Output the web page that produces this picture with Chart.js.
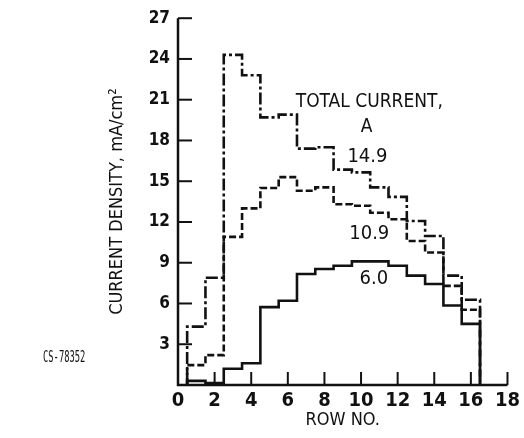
<!DOCTYPE html>
<html><head><meta charset="utf-8">
<script src="https://cdn.jsdelivr.net/npm/chart.js@4.4.0/dist/chart.umd.min.js"></script>
<style>html,body{margin:0;padding:0;background:#fff}#wrap{width:524px;height:438px;position:relative}</style>
</head><body><div id="wrap"><canvas id="c" width="524" height="438"></canvas></div>
<script>
// Row numbers and current density (mA/cm^2) per row for each total current
const rows = [1,2,3,4,5,6,7,8,9,10,11,12,13,14,15,16];
const current149 = [4.3, 7.9, 24.3, 22.8, 19.7, 19.9, 17.4, 17.5, 15.85, 15.65, 14.55, 13.85, 12.07, 10.97, 8.05, 6.27];
const current109 = [1.46, 2.2, 10.9, 13.0, 14.5, 15.3, 14.3, 14.55, 13.3, 13.2, 12.68, 12.2, 10.6, 9.75, 7.3, 5.54];
const current60  = [0.3, 0.15, 1.2, 1.6, 5.73, 6.2, 8.17, 8.54, 8.78, 9.1, 9.1, 8.78, 8.05, 7.44, 5.85, 4.5];
const seriesLabels = ['14.9', '10.9', '6.0'];
const xTickValues = [0,2,4,6,8,10,12,14,16,18];
const yTickValues = [3,6,9,12,15,18,21,24,27];

const NARROW = "'Liberation Sans Narrow','DejaVu Sans Condensed','Roboto Condensed',sans-serif";
const INK = '#111';

function stepPoints(vals) {
  const pts = [{x: rows[0] - 0.5, y: 0}];
  vals.forEach((v, i) => pts.push({x: rows[i] - 0.5, y: v}));
  pts.push({x: rows[rows.length - 1] + 0.5, y: 0});
  return pts;
}

const annotations = [
  {text: 'TOTAL CURRENT,', x: 10.45, y: 20.85, size: 19},
  {text: 'A', x: 10.3, y: 19.0, size: 19},
  {text: seriesLabels[0], x: 10.35, y: 16.8, size: 20},
  {text: seriesLabels[1], x: 10.45, y: 11.1, size: 20},
  {text: seriesLabels[2], x: 10.7, y: 7.8, size: 20}
];

const decor = {
  id: 'decor',
  afterDraw(chart) {
    const ctx = chart.ctx, xs = chart.scales.x, ys = chart.scales.y;
    const a = chart.chartArea;
    ctx.save();
    ctx.strokeStyle = INK; ctx.lineWidth = 2.5; ctx.lineCap = 'butt';
    // axes
    ctx.beginPath();
    ctx.moveTo(a.left, ys.getPixelForValue(27));
    ctx.lineTo(a.left, a.bottom);
    ctx.lineTo(xs.getPixelForValue(18), a.bottom);
    ctx.stroke();
    // y ticks (inward)
    ctx.lineWidth = 2;
    yTickValues.forEach(v => {
      const py = ys.getPixelForValue(v);
      ctx.beginPath(); ctx.moveTo(a.left, py); ctx.lineTo(a.left + 14, py); ctx.stroke();
    });
    // x ticks (inward)
    xTickValues.forEach(v => {
      if (v === 0) return;
      const px = xs.getPixelForValue(v);
      ctx.beginPath(); ctx.moveTo(px, a.bottom); ctx.lineTo(px, a.bottom - 13); ctx.stroke();
    });
    // annotations
    ctx.fillStyle = INK;
    ctx.textAlign = 'center'; ctx.textBaseline = 'middle';
    annotations.forEach(t => {
      ctx.font = t.size + 'px ' + NARROW;
      ctx.fillText(t.text, xs.getPixelForValue(t.x), ys.getPixelForValue(t.y));
    });
    // figure id
    ctx.save();
    ctx.translate(43, 358);
    ctx.scale(0.55, 1);
    ctx.font = "16px 'DejaVu Sans Mono','Liberation Mono',monospace";
    ctx.textAlign = 'left';
    ctx.fillText('CS-78352', 0, 0);
    ctx.restore();
    ctx.restore();
  }
};

new Chart(document.getElementById('c'), {
  type: 'line',
  data: {
    datasets: [
      {label: seriesLabels[0], data: stepPoints(current149), borderDash: [12,3,3,3]},
      {label: seriesLabels[1], data: stepPoints(current109), borderDash: [7,3]},
      {label: seriesLabels[2], data: stepPoints(current60), borderDash: []}
    ].map(d => Object.assign({
      borderColor: INK, borderWidth: 2.6, pointRadius: 0, stepped: true, fill: false, tension: 0
    }, d))
  },
  options: {
    responsive: false, animation: false,
    layout: {padding: {left: 100, right: 10, top: 16, bottom: 0}},
    plugins: {legend: {display: false}, tooltip: {enabled: false}},
    scales: {
      x: {
        type: 'linear', min: 0, max: 18,
        afterBuildTicks(s) { s.ticks = xTickValues.map(v => ({value: v})); },
        ticks: {color: INK, font: {family: NARROW, size: 20, weight: 'bold'}, padding: 4, maxRotation: 0, autoSkip: false},
        grid: {display: false, drawTicks: false}, border: {display: false},
        title: {display: true, text: 'ROW NO.', color: INK, font: {family: NARROW, size: 18}, padding: {top: 0, bottom: 7}},
        afterFit(s) { s.height = 53; }
      },
      y: {
        min: 0, max: 27,
        afterBuildTicks(s) { s.ticks = yTickValues.map(v => ({value: v})); },
        ticks: {color: INK, font: {family: NARROW, size: 17, weight: 'bold'}, padding: 8},
        grid: {display: false, drawTicks: false}, border: {display: false},
        title: {display: true, text: 'CURRENT DENSITY, mA/cm\u00B2', color: INK, font: {family: NARROW, size: 18}, padding: {top: 7, bottom: 0}},
        afterFit(s) { s.width = 78; }
      }
    }
  },
  plugins: [decor]
});
</script></body></html>
